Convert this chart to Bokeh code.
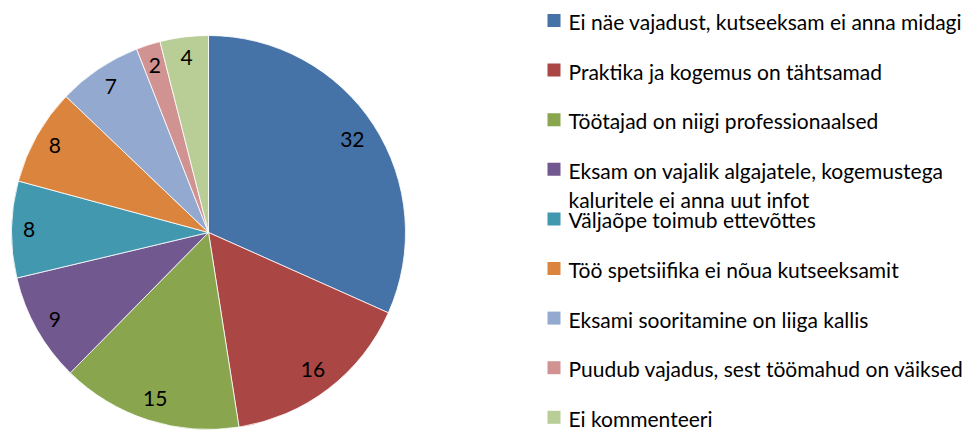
import math
from bokeh.plotting import figure
from bokeh.models import ColumnDataSource
from bokeh.core.properties import value
from bokeh.embed import file_html
from bokeh.resources import INLINE

categories = [
    "Ei näe vajadust, kutseeksam ei anna midagi",
    "Praktika ja kogemus on tähtsamad",
    "Töötajad on niigi professionaalsed",
    "Eksam on vajalik algajatele, kogemustega\nkaluritele ei anna uut infot",
    "Väljaõpe toimub ettevõttes",
    "Töö spetsiifika ei nõua kutseeksamit",
    "Eksami sooritamine on liiga kallis",
    "Puudub vajadus, sest töömahud on väiksed",
    "Ei kommenteeri",
]
values = [32, 16, 15, 9, 8, 8, 7, 2, 4]
colors = ["#4572A7", "#AA4643", "#89A54E", "#71588F", "#4198AF",
          "#DB843D", "#93A9CF", "#D19392", "#B9CD96"]

W, H = 974, 430
FONT = "Lato"
FS = "21px"

p = figure(width=W, height=H, x_range=(0, W), y_range=(0, H),
           output_backend="svg", toolbar_location=None, min_border=0,
           tools="")
p.axis.visible = False
p.grid.visible = False
p.outline_line_color = None

# pie geometry (screen px, y up)
cx, cy, R = 208, H - 232, 197
total = sum(values)
starts, ends, lx, ly = [], [], [], []
cum = 0
for v in values:
    a0 = math.pi / 2 - 2 * math.pi * cum / total
    a1 = math.pi / 2 - 2 * math.pi * (cum + v) / total
    starts.append(a1)
    ends.append(a0)
    mid = (a0 + a1) / 2
    hw = 5.5 * len(str(v))
    ext = hw * abs(math.cos(mid)) + 8 * abs(math.sin(mid))
    r = R - 12 - ext
    lx.append(cx + r * math.cos(mid))
    ly.append(cy + r * math.sin(mid))
    cum += v

src = ColumnDataSource(dict(start=starts, end=ends, color=colors,
                            lx=lx, ly=ly, lab=[str(v) for v in values]))
p.wedge(x=cx, y=cy, radius=R, start_angle="start", end_angle="end",
        fill_color="color", line_color="white", line_width=0.8, source=src)
p.text(x="lx", y="ly", text="lab", text_align="center", text_baseline="middle",
       text_font=value(FONT), text_font_size=FS, text_color="black", source=src)

# legend
sq_x, tx = 553.5, 568
row0, step = H - 20, 49.6
sqx, sqy, tX, tY, tT = [], [], [], [], []
for i, (c, lab) in enumerate(zip(colors, categories)):
    y = row0 - i * step
    sqx.append(sq_x)
    sqy.append(y)
    for j, line in enumerate(lab.split("\n")):
        tX.append(tx)
        tY.append(y - 1 - j * 29)
        tT.append(line)
p.rect(x=sqx, y=sqy, width=13, height=13, fill_color=colors, line_color=None)
p.text(x=tX, y=tY, text=tT, text_align="left", text_baseline="middle",
       text_font=value(FONT), text_font_size=FS, text_color="black")

open("out.html", "w").write(file_html(p, INLINE))
